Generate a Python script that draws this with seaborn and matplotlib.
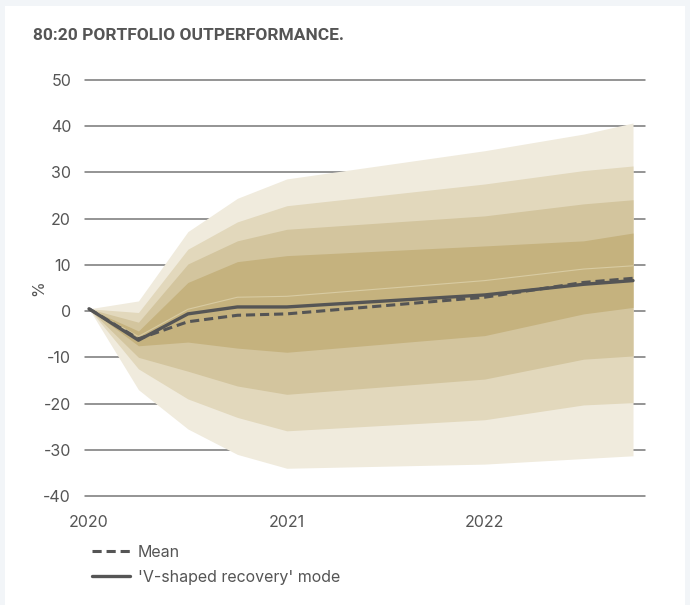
import numpy as np
import pandas as pd
import matplotlib
matplotlib.use('Agg')
import matplotlib.pyplot as plt
from matplotlib.patches import Rectangle
import seaborn as sns

# quarterly / semi-annual points
years = [2020.0, 2020.25, 2020.5, 2020.75, 2021.0, 2022.0, 2022.5, 2022.75]

# band boundaries, outermost first (upper) and innermost first (lower)
upper_4 = [0.5, 2.2, 17.2, 24.4, 28.6, 34.7, 38.3, 40.7]
upper_3 = [0.5, -0.3, 13.4, 19.3, 22.8, 27.5, 30.4, 31.4]
upper_2 = [0.5, -2.4, 10.2, 15.2, 17.7, 20.6, 23.2, 24.1]
upper_1 = [0.5, -4.3, 6.2, 10.7, 12.0, 14.1, 15.2, 16.9]
middle = [0.5, -5.5, 0.4, 3.0, 3.2, 6.6, 9.1, 9.8]
lower_1 = [0.5, -7.5, -6.7, -8.0, -8.9, -5.3, -0.6, 0.8]
lower_2 = [0.5, -10.0, -13.0, -16.2, -18.0, -14.7, -10.4, -9.7]
lower_3 = [0.5, -12.5, -19.0, -23.0, -25.9, -23.5, -20.3, -19.8]
lower_4 = [0.5, -17.0, -25.5, -31.0, -34.0, -33.1, -31.9, -31.3]

mean_vals = [0.5, -6.0, -2.3, -0.9, -0.6, 3.0, 6.2, 7.1]
mode_vals = [0.5, -6.3, -0.6, 0.9, 0.9, 3.5, 5.8, 6.6]

band_colors = ['#F0EBDD', '#E2D8BC', '#D3C59E', '#C5B27E']
line_color = '#555555'
text_color = '#555555'

sns.set_style('white')
plt.rcParams['font.family'] = ['Inter', 'DejaVu Sans']
plt.rcParams['axes.unicode_minus'] = False

fig = plt.figure(figsize=(6.9, 6.05), dpi=100, facecolor='#F2F5F8')
fig.patches.append(Rectangle((5 / 690, 0), 680 / 690, 1 - 6 / 605,
                             transform=fig.transFigure, facecolor='white',
                             edgecolor='none', zorder=-10))

ax = fig.add_axes([85 / 690, 1 - 496 / 605, 560 / 690, 416 / 605])
ax.set_facecolor('none')

# grid lines behind the fan
for v in range(-40, 51, 10):
    ax.axhline(v, color='#777777', lw=1.1, zorder=0, clip_on=False)

uppers = [upper_4, upper_3, upper_2, upper_1]
lowers = [lower_4, lower_3, lower_2, lower_1]
for up, lo, c in zip(uppers, lowers, band_colors):
    ax.fill_between(years, lo, up, color=c, lw=0, zorder=1)

ax.plot(years, middle, color='#D8CBA2', lw=0.8, zorder=2)

df = pd.DataFrame({'year': years, 'Mean': mean_vals,
                   "'V-shaped recovery' mode": mode_vals})
sns.lineplot(data=df, x='year', y='Mean', ax=ax, color=line_color, lw=2.2,
             linestyle=(0, (3, 1.6)), label='Mean', zorder=3)
sns.lineplot(data=df, x='year', y="'V-shaped recovery' mode", ax=ax,
             color=line_color, lw=2.4, label="'V-shaped recovery' mode", zorder=3)

ax.set_xlim(2020 - 4 / 198, 2022.75 + 12 / 198)
ax.set_ylim(-40, 50)
ax.set_yticks(range(-40, 51, 10))
ax.set_xticks([2020, 2021, 2022])
ax.set_xticklabels(['2020', '2021', '2022'])
ax.tick_params(axis='both', length=0, labelsize=11.5, labelcolor=text_color)
ax.tick_params(axis='y', pad=10)
ax.tick_params(axis='x', pad=14)
for s in ax.spines.values():
    s.set_visible(False)
ax.set_xlabel('')
ax.set_ylabel('%', fontsize=11.5, color=text_color, labelpad=-2)

handles, labels = ax.get_legend_handles_labels()
ax.get_legend().remove()
fig.legend(handles, labels, loc='upper left', bbox_to_anchor=(0.112, 0.123),
           frameon=False, fontsize=11.5, labelcolor=text_color,
           handlelength=2.4, handletextpad=0.5, labelspacing=0.6)

fig.text(33 / 690, 1 - 36 / 605, '80:20 PORTFOLIO OUTPERFORMANCE.',
         fontsize=12.5, fontweight='bold', color=text_color, va='center', ha='left',
         family=['Roboto', 'DejaVu Sans'])

fig.savefig('out.png', dpi=100, facecolor=fig.get_facecolor())
